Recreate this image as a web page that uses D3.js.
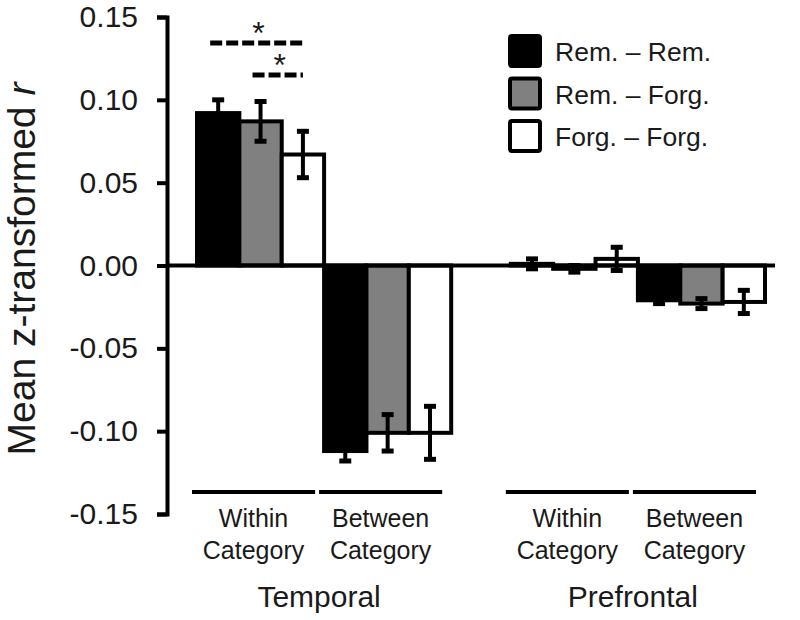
<!DOCTYPE html>
<html>
<head>
<meta charset="utf-8">
<script src="https://cdn.jsdelivr.net/npm/d3@7"></script>
<style>
  html, body { margin: 0; padding: 0; background: #fff; }
  svg { display: block; }
  text { font-family: "Liberation Sans", Arial, Helvetica, sans-serif; fill: #1a1a1a; }
</style>
</head>
<body>
<svg id="chart" width="800" height="620"></svg>
<script>
// ---- data ----
const regions = ["Temporal", "Prefrontal"];
const conditions = ["Within", "Between"];
const conditionLines = [["Within", "Category"], ["Between", "Category"]];
const seriesNames = ["Rem. – Rem.", "Rem. – Forg.", "Forg. – Forg."];
const seriesColors = ["#000000", "#808080", "#ffffff"];
// values per region/condition, in series order
const temporalWithin   = [0.092, 0.087, 0.067];
const temporalBetween  = [-0.112, -0.101, -0.101];
const prefrontalWithin = [0.001, -0.002, 0.004];
const prefrontalBetween= [-0.021, -0.023, -0.022];
// standard errors
const temporalWithinErr   = [0.008, 0.012, 0.014];
const temporalBetweenErr  = [0.006, 0.011, 0.016];
const prefrontalWithinErr = [0.003, 0.002, 0.007];
const prefrontalBetweenErr= [0.002, 0.003, 0.007];
const yTicks = [-0.15, -0.10, -0.05, 0.00, 0.05, 0.10, 0.15];
// significance comparisons (Temporal, Within): [from series, to series, level]
const sigPairs = [[0, 2, 0], [1, 2, 1]];

const rows = [
  {region: "Temporal", cond: "Within", vals: temporalWithin, errs: temporalWithinErr},
  {region: "Temporal", cond: "Between", vals: temporalBetween, errs: temporalBetweenErr},
  {region: "Prefrontal", cond: "Within", vals: prefrontalWithin, errs: prefrontalWithinErr},
  {region: "Prefrontal", cond: "Between", vals: prefrontalBetween, errs: prefrontalBetweenErr}
];
const bars = [];
rows.forEach(r => r.vals.forEach((v, i) => bars.push({region: r.region, cond: r.cond, s: i, v: v, e: r.errs[i]})));

// ---- scales ----
const svg = d3.select("#chart");
const axisX = 167;
const y = d3.scaleLinear().domain([-0.15, 0.15]).range([514, 17]);
const xRegion = d3.scaleBand().domain(regions).range([197, 765]).paddingInner(0.19);
const xCond = d3.scaleBand().domain(conditions).range([0, xRegion.bandwidth()]);
const xSeries = d3.scaleBand().domain(d3.range(seriesNames.length)).range([0, xCond.bandwidth()]);
const color = d3.scaleOrdinal().domain(d3.range(seriesNames.length)).range(seriesColors);
const barX = d => xRegion(d.region) + xCond(d.cond) + xSeries(d.s);

// ---- y axis ----
const yAxis = d3.axisLeft(y).tickValues(yTicks).tickFormat(d3.format(".2f"))
  .tickSize(10).tickSizeOuter(10).tickPadding(19);
const gy = svg.append("g").attr("transform", `translate(${axisX},0)`).call(yAxis);
gy.select(".domain").attr("stroke", "#000").attr("stroke-width", 4);
gy.selectAll(".tick line").attr("stroke", "#000").attr("stroke-width", 4);
gy.selectAll(".tick text").attr("font-size", 30)
  .attr("font-family", "'Liberation Sans', Arial, sans-serif").attr("fill", "#1a1a1a")
  .text(d => d3.format(".2f")(d).replace("−", "-"));

// y title
const title = svg.append("text")
  .attr("transform", "translate(35,269) rotate(-90)")
  .attr("text-anchor", "middle").attr("font-size", 39);
title.append("tspan").text("Mean z-transformed ");
title.append("tspan").attr("font-style", "italic").text("r");

// ---- bars ----
svg.append("g").selectAll("rect").data(bars).join("rect")
  .attr("x", d => barX(d))
  .attr("width", xSeries.bandwidth())
  .attr("y", d => y(Math.max(0, d.v)))
  .attr("height", d => Math.abs(y(d.v) - y(0)))
  .attr("fill", d => color(d.s))
  .attr("stroke", "#000").attr("stroke-width", 4);

// zero line
svg.append("line")
  .attr("x1", axisX).attr("x2", 775)
  .attr("y1", y(0)).attr("y2", y(0))
  .attr("stroke", "#000").attr("stroke-width", 4);

// ---- error bars ----
const eb = svg.append("g").selectAll("g").data(bars).join("g")
  .attr("transform", d => `translate(${barX(d) + xSeries.bandwidth() / 2},0)`);
eb.append("line").attr("y1", d => y(d.v - d.e)).attr("y2", d => y(d.v + d.e))
  .attr("stroke", "#000").attr("stroke-width", 4);
eb.selectAll("line.cap").data(d => [d.v - d.e, d.v + d.e]).join("line").attr("class", "cap")
  .attr("x1", -6).attr("x2", 6).attr("y1", v => y(v)).attr("y2", v => y(v))
  .attr("stroke", "#000").attr("stroke-width", 5);

// ---- significance ----
const sigY = [43, 75];
const sigG = svg.append("g");
sigPairs.forEach(p => {
  const xa = xRegion("Temporal") + xCond("Within") + xSeries(p[0]) + xSeries.bandwidth() / 2 - 8;
  const xb = xRegion("Temporal") + xCond("Within") + xSeries(p[1]) + xSeries.bandwidth() / 2;
  const yy = sigY[p[2]];
  sigG.append("line").attr("x1", xa).attr("x2", xb).attr("y1", yy).attr("y2", yy)
    .attr("stroke", "#000").attr("stroke-width", 5).attr("stroke-dasharray", "12,4");
  sigG.append("text").attr("x", (xa + xb) / 2 + 2).attr("y", yy + 1)
    .attr("text-anchor", "middle").attr("font-size", 32).text("*");
});

// ---- legend ----
const legend = svg.append("g").selectAll("g").data(seriesNames).join("g")
  .attr("transform", (d, i) => `translate(510,${36 + i * 42.5})`);
legend.append("rect").attr("width", 30).attr("height", 30).attr("rx", 2)
  .attr("fill", (d, i) => color(i)).attr("stroke", "#000").attr("stroke-width", 4);
legend.append("text").attr("x", 45).attr("y", 25).attr("font-size", 26.5).text(d => d);

// ---- category brackets and labels ----
const condG = svg.append("g");
rows.forEach(r => {
  const x0 = xRegion(r.region) + xCond(r.cond);
  const x1 = x0 + xCond.bandwidth();
  const a = x0 - 5, b = x1 - 9;
  condG.append("line").attr("x1", a).attr("x2", b).attr("y1", 492).attr("y2", 492)
    .attr("stroke", "#000").attr("stroke-width", 4);
  const lines = conditionLines[conditions.indexOf(r.cond)];
  lines.forEach((t, k) => {
    condG.append("text").attr("x", (a + b) / 2).attr("y", 527 + k * 32)
      .attr("text-anchor", "middle").attr("font-size", 25).text(t);
  });
});
svg.append("g").selectAll("text").data(regions).join("text")
  .attr("x", d => xRegion(d) + xRegion.bandwidth() / 2 - 5)
  .attr("y", 607).attr("text-anchor", "middle").attr("font-size", 30).text(d => d);
</script>
</body>
</html>
